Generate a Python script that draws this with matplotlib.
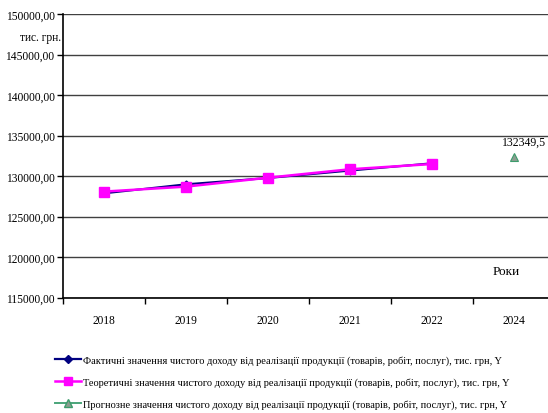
import matplotlib
matplotlib.use("Agg")
import matplotlib.pyplot as plt
from matplotlib.lines import Line2D
from matplotlib.ticker import FixedLocator, FuncFormatter

# Data
years = ["2018", "2019", "2020", "2021", "2022", "2024"]
actual = [127860, 128975, 129750, 130670, 131570]
theoretical = [128074, 128690, 129790, 130830, 131480]
forecast = [132349.5]

labels = [
    "Фактичні значення чистого доходу від реалізації продукції (товарів, робіт, послуг), тис. грн, Y",
    "Теоретичні значення чистого доходу від реалізації продукції (товарів, робіт, послуг), тис. грн, Y",
    "Прогнозне значення чистого доходу від реалізації продукції (товарів, робіт, послуг), тис. грн, Y",
]

plt.rcParams["font.family"] = ["Liberation Serif", "DejaVu Serif"]

W, H = 548, 414
fig = plt.figure(figsize=(W / 100, H / 100), dpi=100)

# axes box in pixels: left 63, right 555 (runs past the figure edge), top 15, bottom 298.5
left, right, top, bottom = 63, 555, 15, 298.5
ax = fig.add_axes([left / W, 1 - bottom / H, (right - left) / W, (bottom - top) / H])

x_hist = list(range(len(actual)))
x_fc = [len(years) - 1]

ax.plot(x_hist, actual, color="#000080", lw=1.5, marker="D", ms=3.5,
        mfc="#000080", mec="#000080", zorder=3)
ax.plot(x_hist, theoretical, color="#FF00FF", lw=1.8, marker="s", ms=6.5,
        mfc="#FF00FF", mec="#FF00FF", zorder=4)
ax.plot(x_fc, forecast, linestyle="none", marker="^", ms=6,
        mfc="#8c9c90", mec="#3c9c6c", mew=0.8, zorder=4)

ax.annotate("132349,5", (x_fc[0], forecast[0]), xytext=(-9, 7),
            textcoords="offset points", ha="left", va="bottom", fontsize=8.5)

ax.set_xlim(-0.5, 5.5)
ax.set_ylim(115000, 150000)

ax.yaxis.set_major_locator(FixedLocator(range(115000, 150001, 5000)))
ax.yaxis.set_major_formatter(FuncFormatter(lambda v, p: f"{v:.2f}".replace(".", ",")))
ax.yaxis.grid(True, color="#404040", lw=1.0)
ax.set_axisbelow(True)

ax.set_xticks(range(len(years)))
ax.set_xticklabels(years)
ax.set_xticks([i - 0.5 for i in range(len(years) + 1)], minor=True)
ax.tick_params(axis="x", which="major", length=0, pad=12, labelsize=8.3)
ax.tick_params(axis="x", which="minor", length=4, width=1, direction="out")
ax.tick_params(axis="y", length=4, width=1, direction="out", pad=2, labelsize=8.3)

for s in ["top", "right"]:
    ax.spines[s].set_visible(False)
for s in ["left", "bottom"]:
    ax.spines[s].set_color("black")
    ax.spines[s].set_linewidth(1.2)

fig.text(20 / W, 1 - 38 / H, "тис. грн.", fontsize=8.3, ha="left", va="center",
         zorder=5)
fig.text(493 / W, 1 - 272 / H, "Роки", fontsize=9.5, ha="left", va="center")

handles = [
    Line2D([], [], color="#000080", lw=1.6, marker="D", ms=4),
    Line2D([], [], color="#FF00FF", lw=1.8, marker="s", ms=6),
    Line2D([], [], color="#4aa57a", lw=1.4, marker="^", ms=6,
           mfc="#8c9c90", mec="#3c9c6c"),
]
fig.legend(handles, labels, loc="upper left", bbox_to_anchor=(55 / W, 1 - 356 / H),
           frameon=False, fontsize=7.5, handlelength=2.5, handletextpad=0.2,
           labelspacing=1.2, borderpad=0, borderaxespad=0)

fig.savefig("out.png", dpi=100)
